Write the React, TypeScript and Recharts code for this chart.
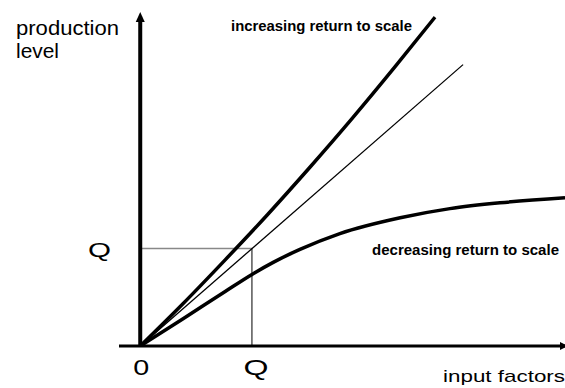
import React from 'react';
import { LineChart, Line, XAxis, YAxis, ReferenceLine, ReferenceDot, Customized } from 'recharts';

// increasing return to scale (bold, convex)
const incX = [0, 1, 2, 3, 4, 5, 6, 6.94];
const incY = [0, 1.01, 2.07, 3.16, 4.3, 5.48, 6.71, 7.9];
// decreasing return to scale (bold, concave)
const decX = [0, 1, 2, 2.63, 3.13, 3.76, 4.7, 6.12, 7.29, 8.47, 10];
const decY = [0, 0.65, 1.31, 1.72, 2.01, 2.32, 2.7, 3.08, 3.3, 3.44, 3.56];
// constant return (thin straight line)
const linX = [0, 7.6];
const linY = [0, 6.76];
// Q point
const qX = 2.63;
const qY = 2.34;
const xTickLabels = ['0', 'Q'];
const yTickLabels = ['Q'];

const toPts = (xs: number[], ys: number[]) => xs.map((x, i) => ({ x, y: ys[i] }));
const incData = toPts(incX, incY);
const decData = toPts(decX, decY);
const linData = toPts(linX, linY);

const FONT = '"Liberation Sans", Arial, sans-serif';

const XTick = (props: any) => {
  const { x, y, index } = props;
  const label = xTickLabels[index];
  return (
    <text x={x + (index === 1 ? 4 : 1)} y={y + 29} textAnchor="middle" fontFamily={FONT} fontSize={22} fill="#000"
      textLength={index === 1 ? 25 : 16} lengthAdjust="spacingAndGlyphs">
      {label}
    </text>
  );
};

const YTick = (props: any) => {
  const { x, y, index } = props;
  return (
    <text x={x - 8} y={y + 8} textAnchor="end" fontFamily={FONT} fontSize={21} fill="#000"
      textLength={23} lengthAdjust="spacingAndGlyphs">
      {yTickLabels[index]}
    </text>
  );
};

const UpArrow = (props: any) => {
  const { cx, cy } = props;
  return <polygon points={`${cx},${cy - 1} ${cx - 4.5},${cy + 9} ${cx + 4.5},${cy + 9}`} fill="#000" />;
};

const RightArrow = (props: any) => {
  const { cx, cy } = props;
  return <polygon points={`${cx + 3},${cy} ${cx - 5},${cy - 4} ${cx - 5},${cy + 4}`} fill="#000" />;
};

const Texts = () => (
  <g fontFamily={FONT} fill="#000">
    <text x={16} y={35} fontSize={20} textLength={103} lengthAdjust="spacingAndGlyphs">production</text>
    <text x={16} y={58} fontSize={20} textLength={43} lengthAdjust="spacingAndGlyphs">level</text>
    <text x={231} y={31} fontSize={15} fontWeight="bold" textLength={181} lengthAdjust="spacingAndGlyphs">increasing return to scale</text>
    <text x={372} y={255} fontSize={15} fontWeight="bold" textLength={187} lengthAdjust="spacingAndGlyphs">decreasing return to scale</text>
    <text x={443} y={382} fontSize={17} textLength={122} lengthAdjust="spacingAndGlyphs">input factors</text>
  </g>
);

export default function App() {
  return (
    <div style={{ position: 'absolute', left: 0, top: 0, width: 565, height: 388, background: '#fff' }}>
      <LineChart width={565} height={388} margin={{ top: 13, right: 0, bottom: 0, left: 0 }}>
        <XAxis type="number" dataKey="x" domain={[-0.5, 10]} ticks={[0, qX]} interval={0} allowDataOverflow
          height={42} axisLine={{ stroke: '#000', strokeWidth: 3 }} tickLine={false} tickSize={0} tickMargin={0}
          tick={<XTick />} />
        <YAxis type="number" dataKey="y" domain={[0, 8]} ticks={[qY]} interval={0} allowDataOverflow
          width={119} axisLine={false} tickLine={false} tickSize={0} tickMargin={0} tick={<YTick />} />
        <ReferenceLine segment={[{ x: 0, y: qY }, { x: qX, y: qY }]} stroke="#888" strokeWidth={1.5} />
        <ReferenceLine segment={[{ x: qX, y: 0 }, { x: qX, y: qY }]} stroke="#000" strokeWidth={1} />
        <ReferenceLine segment={[{ x: 0, y: 0 }, { x: 0, y: 7.83 }]} stroke="#000" strokeWidth={4} />
        <ReferenceDot x={0} y={8} r={0} shape={<UpArrow />} />
        <ReferenceDot x={10} y={0} r={0} shape={<RightArrow />} />
        <Line data={linData} dataKey="y" type="linear" stroke="#000" strokeWidth={1.3} dot={false} activeDot={false} isAnimationActive={false} />
        <Line data={decData} dataKey="y" type="monotone" stroke="#000" strokeWidth={3.5} dot={false} activeDot={false} isAnimationActive={false} />
        <Line data={incData} dataKey="y" type="monotone" stroke="#000" strokeWidth={3.5} dot={false} activeDot={false} isAnimationActive={false} />
        <Customized component={<Texts />} />
      </LineChart>
    </div>
  );
}
